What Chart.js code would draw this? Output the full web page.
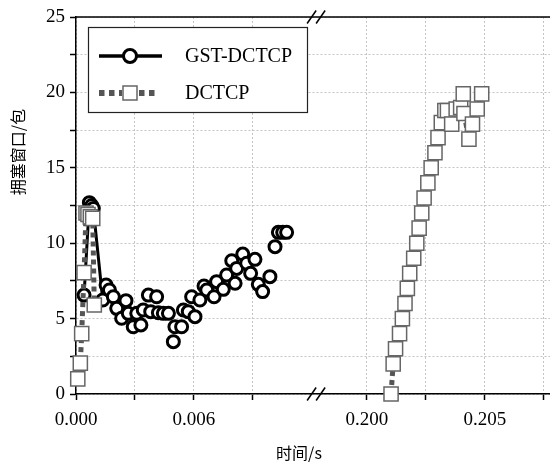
<!DOCTYPE html>
<html lang="zh">
<head>
  <meta charset="UTF-8">
  <title>拥塞窗口</title>
  <script src="https://cdn.jsdelivr.net/npm/chart.js"></script>
  <style>
    body {
      margin: 0;
      padding: 0;
      background-color: #fff;
    }
    canvas {
      display: block;
    }
  </style>
</head>
<body>
  <canvas id="cwndChart" width="550" height="463"></canvas>

  <script>
    // GST-DCTCP (circles), time in s, window in packets
    const gstTime = [0.00041, 0.00068, 0.00080, 0.00088, 0.00136, 0.00153, 0.00170, 0.00190, 0.00207, 0.00232,
                     0.00254, 0.00266, 0.00291, 0.00309, 0.00330, 0.00342, 0.00368, 0.00380, 0.00410, 0.00419,
                     0.00444, 0.00470, 0.00495, 0.00503, 0.00537, 0.00546, 0.00571, 0.00588, 0.00605, 0.00630,
                     0.00651, 0.00665, 0.00702, 0.00715, 0.00749, 0.00766, 0.00792, 0.00809, 0.00817, 0.00848,
                     0.00868, 0.00888, 0.00910, 0.00927, 0.00949, 0.00986, 0.01012, 0.01029, 0.01051, 0.01071];
    const gstCwnd = [6.56, 12.69, 12.5, 12.3, 6.23, 7.23, 6.9, 6.45, 5.68, 5.02,
                     6.19, 5.35, 4.46, 5.35, 4.58, 5.57, 6.56, 5.46, 6.45, 5.39,
                     5.35, 5.35, 3.47, 4.46, 4.46, 5.57, 5.46, 6.45, 5.13, 6.23,
                     7.16, 6.9, 6.45, 7.45, 6.94, 7.89, 8.84, 7.34, 8.33, 9.28,
                     8.67, 8.0, 8.93, 7.27, 6.79, 7.78, 9.77, 10.72, 10.72, 10.72];

    // DCTCP (squares), first burst and the later ramp
    const dctcpTimeA = [0.00009, 0.00022, 0.00029, 0.00041, 0.00051, 0.00061, 0.00073, 0.00085, 0.00093];
    const dctcpCwndA = [1.0, 2.05, 4.0, 8.05, 12.0, 11.9, 11.75, 11.65, 5.9];
    const dctcpTimeB = [0.20102, 0.20111, 0.20121, 0.20138, 0.20150, 0.20161, 0.20171, 0.20181, 0.20198, 0.20211,
                        0.20221, 0.20232, 0.20242, 0.20258, 0.20272, 0.20288, 0.20301, 0.20315, 0.20330, 0.20341,
                        0.20359, 0.20378, 0.20397, 0.20408, 0.20411, 0.20432, 0.20447, 0.20467, 0.20486];
    const dctcpCwndB = [0, 2, 3, 4, 5, 6, 7, 8, 9, 10,
                        11, 12, 13, 14, 15, 16, 17, 18, 18.8, 18.8,
                        17.9, 18.9, 19, 19.9, 18.6, 16.9, 17.9, 18.9, 19.9];

    const xTickValues = [0, 0.003, 0.006, 0.009, 0.200, 0.2025, 0.205, 0.2075];
    const xTickLabels = ['0.000', '', '0.006', '', '0.200', '', '0.205', ''];
    const yTickLabels = [0, 5, 10, 15, 20, 25];

    // broken time axis: 0..~0.012 s, then 0.198..~0.208 s
    const leftStep = 0.003;
    const rightStep = 0.0025;
    const rightOrigin = 4.932;
    const breakPos = 4.07;
    const axisMax = 8.034;

    function toAxis(t) {
      if (t < 0.1) return t / leftStep;
      return rightOrigin + (t - 0.2) / rightStep;
    }

    function toPoints(xs, ys) {
      return xs.map((t, i) => ({ x: toAxis(t), y: ys[i] }));
    }

    const serif = "'Liberation Serif', 'Times New Roman', serif";
    const cjk = "'Noto Sans CJK SC', sans-serif";

    Chart.defaults.font.family = serif;
    Chart.defaults.color = '#000';

    const dctcpStyle = {
      showLine: true,
      borderColor: '#555',
      borderWidth: 5,
      borderDash: [5, 4],
      pointStyle: 'rect',
      pointRadius: 10,
      pointBorderWidth: 1.5,
      pointBorderColor: '#666',
      pointBackgroundColor: '#fff',
      clip: false,
      order: 0
    };

    const extras = {
      id: 'extras',
      afterDraw(chart) {
        const ctx = chart.ctx;
        const area = chart.chartArea;
        const xs = chart.scales.x;
        ctx.save();

        // top frame line
        ctx.strokeStyle = '#000';
        ctx.lineWidth = 1.5;
        ctx.beginPath();
        ctx.moveTo(area.left, area.top);
        ctx.lineTo(area.right, area.top);
        ctx.stroke();

        // axis break marks
        const bx = xs.getPixelForValue(breakPos);
        [area.top, area.bottom].forEach(y => {
          [-4.5, 4.5].forEach(dx => {
            ctx.beginPath();
            ctx.moveTo(bx + dx - 4.5, y + 6.5);
            ctx.lineTo(bx + dx + 4.5, y - 6.5);
            ctx.stroke();
          });
        });

        // legend
        ctx.fillStyle = '#fff';
        ctx.fillRect(88, 27, 219, 85);
        ctx.strokeStyle = '#222';
        ctx.lineWidth = 1.2;
        ctx.strokeRect(88.5, 27.5, 219, 85);

        ctx.strokeStyle = '#000';
        ctx.lineWidth = 3.5;
        ctx.beginPath();
        ctx.moveTo(99, 56);
        ctx.lineTo(162, 56);
        ctx.stroke();
        ctx.lineWidth = 3;
        ctx.beginPath();
        ctx.arc(130, 56, 6.5, 0, Math.PI * 2);
        ctx.fill();
        ctx.stroke();

        ctx.strokeStyle = '#555';
        ctx.lineWidth = 6;
        ctx.setLineDash([5.5, 4.5]);
        ctx.beginPath();
        ctx.moveTo(99, 93);
        ctx.lineTo(157, 93);
        ctx.stroke();
        ctx.setLineDash([]);
        ctx.fillStyle = '#fff';
        ctx.fillRect(122, 85, 16, 16);
        ctx.strokeStyle = '#666';
        ctx.lineWidth = 1.5;
        ctx.strokeRect(123, 86, 14, 14);

        ctx.fillStyle = '#000';
        ctx.font = '20px ' + serif;
        ctx.textBaseline = 'middle';
        ctx.textAlign = 'left';
        ctx.fillText('GST-DCTCP', 185, 57);
        ctx.fillText('DCTCP', 185, 94);

        // axis titles
        ctx.font = '16px ' + cjk;
        ctx.textAlign = 'center';
        ctx.fillText('时间/s', 299, 453);
        ctx.translate(18, 152);
        ctx.rotate(-Math.PI / 2);
        ctx.fillText('拥塞窗口/包', 0, 0);

        ctx.restore();
      }
    };

    const ctx = document.getElementById('cwndChart').getContext('2d');

    const chart = new Chart(ctx, {
      type: 'scatter',
      data: {
        datasets: [
          Object.assign({ label: 'DCTCP', data: toPoints(dctcpTimeA, dctcpCwndA) }, dctcpStyle),
          Object.assign({ label: 'DCTCP', data: toPoints(dctcpTimeB, dctcpCwndB) }, dctcpStyle),
          {
            label: 'GST-DCTCP',
            data: toPoints(gstTime, gstCwnd),
            showLine: true,
            borderColor: '#000',
            borderWidth: 3,
            // only the opening spike is joined up in the original
            segment: {
              borderColor: c => c.p0DataIndex < 4 ? '#000' : 'rgba(0,0,0,0)'
            },
            pointStyle: 'circle',
            pointRadius: 6,
            pointBorderWidth: 3,
            pointBorderColor: '#000',
            pointBackgroundColor: '#fff',
            clip: false,
            order: 1
          }
        ]
      },
      options: {
        responsive: false,
        animation: false,
        layout: {
          autoPadding: false,
          padding: { top: 17, right: 0, bottom: 0, left: 0 }
        },
        plugins: {
          legend: { display: false },
          tooltip: { enabled: false }
        },
        scales: {
          x: {
            type: 'linear',
            min: 0,
            max: axisMax,
            afterBuildTicks: s => {
              s.ticks = xTickValues.map(t => ({ value: toAxis(t) }));
            },
            afterFit: s => {
              s.height = 69;
              s.paddingLeft = 0;
              s.paddingRight = 0;
            },
            ticks: {
              autoSkip: false,
              maxRotation: 0,
              padding: 9,
              font: { size: 19 },
              callback: (v, i) => xTickLabels[i]
            },
            grid: {
              color: '#c4c4c4',
              lineWidth: 1,
              tickLength: 6,
              tickColor: '#000',
              tickWidth: 1.5
            },
            border: { color: '#000', width: 1.5, dash: [2, 2] }
          },
          y: {
            min: 0,
            max: 25,
            afterFit: s => {
              s.width = 76;
              s.paddingTop = 0;
              s.paddingBottom = 0;
            },
            ticks: {
              stepSize: 2.5,
              padding: 5,
              font: { size: 19 },
              callback: v => yTickLabels.includes(v) ? v : ''
            },
            grid: {
              color: '#c4c4c4',
              lineWidth: 1,
              tickLength: 6,
              tickColor: '#000',
              tickWidth: 1.5
            },
            border: { color: '#000', width: 1.5, dash: [2, 2] }
          }
        }
      },
      plugins: [extras]
    });
  </script>
</body>
</html>
